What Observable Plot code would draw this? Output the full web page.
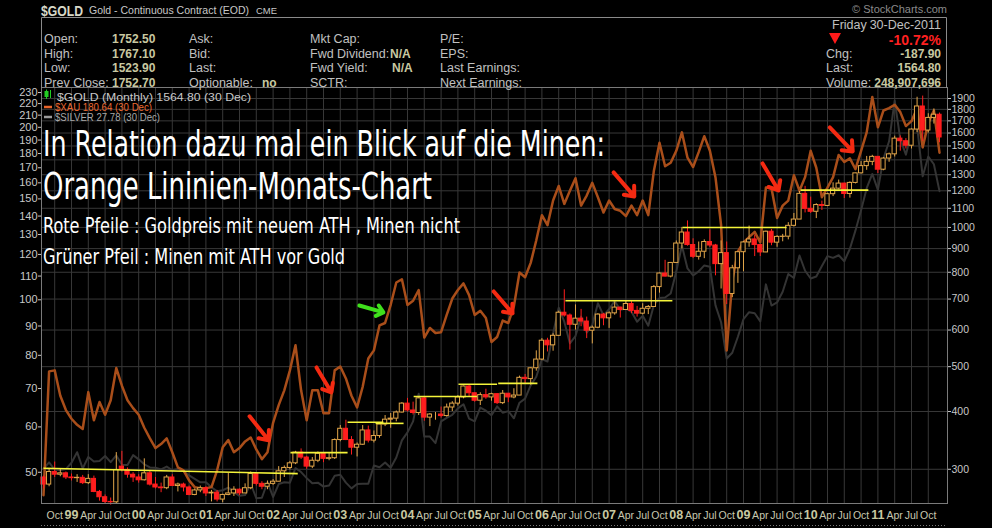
<!DOCTYPE html>
<html>
<head>
<meta charset="utf-8">
<script src="https://cdn.jsdelivr.net/npm/d3@7"></script>
<script src="https://cdn.jsdelivr.net/npm/@observablehq/plot@0.6"></script>
<style>
  html, body { margin:0; padding:0; background:#000; }
  #chart { width:992px; height:528px; overflow:hidden; }
  svg { display:block; }
</style>
</head>
<body>
<div id="chart"></div>
<script>
// ---------- DATA (monthly, Aug 1998 .. Dec 2011) ----------
const startYear = 1998, startMonth = 7; // Aug
const goldOpen = [288,278,296,292,294, 288,287,287.5,280,286,268,261,255,254.5,304,299,292, 288,284,294,278,274,273,288,276,278,274,264,270, 273,266,267,258,264,266,271,266,273,293,279,275, 279,282,297,302,309,326,318,304,313,324,316,317, 347,367,347,334,339,364,346,354,375,384,386,398, 416,402,397,427,388,394,394,391,408,416,429,453, 438,422,434,429,436,417,437,429,433,473,470,496, 518,569,556,583,654,645,616,635,626,598,607,648, 636,652,671,663,683,660,651,667,673,743,795,783, 838,923,975,916,864,886,930,914,833,880,718,816, 884,928,942,916,883,979,927,954,955,1008,1040,1182, 1097,1081,1118,1113,1180,1213,1244,1181,1248,1309,1357,1386, 1421,1333,1409,1439,1556,1536,1502,1628,1826,1620,1725,1752.5];
const goldHigh = [290,300,311,300,296, 293,292,291,292,290,270,264,260,326,328,302,295, 292,316,297,288,280,291,292,280,280,276,272,276, 275,270,270,265,294,275,272,279,296,294,282,283, 285,304,305,312,328,332,320,318,327,326,325,349, 373,383,353,342,373,372,363,376,392,396,401,418, 427,419,431,429,396,398,409,415,420,433,454,457, 438,439,447,438,437,444,437,448,477,481,497,541, 575,576,589,659,733,650,680,665,640,612,651,652, 657,690,672,694,692,675,684,678,749,797,849,840, 935,1000,1033,945,930,940,988,919,935,930,828,887, 933,1007,963,916,982,990,960,966,1024,1072,1196,1227, 1163,1125,1140,1185,1249,1266,1246,1255,1310,1388,1424,1432, 1424,1415,1448,1575,1577,1556,1632,1912,1923,1761,1804,1767.1];
const goldLow = [272,275,288,289,285, 283,281,278,278,267,256,252,251,252,296,287,281, 280,283,276,272,267,271,276,268,268,263,263,267, 262,255,255,254,263,262,263,266,271,276,271,271, 277,282,288,299,307,315,300,301,310,310,313,315, 344,346,322,319,338,342,342,350,371,368,380,397, 399,393,392,381,371,383,387,389,400,411,426,430, 419,412,425,421,414,414,418,426,433,459,456,489, 515,538,540,582,640,543,600,610,575,560,604,613, 605,646,637,663,651,640,647,648,673,721,781,778, 838,898,911,856,850,856,905,786,736,681,705,757, 802,906,865,865,882,913,906,931,940,1003,1040,1075, 1072,1045,1088,1112,1166,1206,1155,1157,1242,1305,1329,1360, 1308,1326,1383,1420,1462,1478,1478,1603,1535,1600,1673,1523.9];
const goldClose = [278,296,292,294,288, 287,287.5,280,286,268,261,255,254.5,299,299,292,288, 284,294,278,274,273,288,276,278,274,264,270,273, 266,267,258,264,266,271,266,273,293,279,275,279, 282,297,302,309,326,318,304,313,324,316,317,347, 367,347,334,339,364,346,354,375,384,386,398,416, 402,397,427,388,394,394,391,408,416,429,453,438, 422,434,429,436,417,437,429,433,473,470,496,518, 569,556,583,654,645,616,635,626,598,607,648,636, 652,671,663,683,660,651,667,673,743,795,783,838, 923,975,916,864,886,930,914,833,880,718,816,884, 928,942,916,883,979,927,954,955,1008,1040,1182,1097, 1081,1118,1113,1180,1213,1244,1181,1248,1309,1357,1386,1421, 1333,1409,1439,1556,1536,1502,1628,1826,1620,1725,1752.7,1564.8];
const xauClose = [45.6,75,75.3,68,64.2, 62,60.5,59.5,69,61.6,66.3,63,66.8,76,70.8,66.8,64.7, 63,59.8,57.3,55.1,56,57.3,54.2,51,50.4,48.4,47.1,46.9, 46.9,47.1,50.4,55.3,56.9,54.2,55.1,56.6,57.5,54.8,52.7,54.2, 61,65.5,69.5,75.3,83.3,69.5,61.6,69.5,69.5,63.4,63.4,75.3, 76.5,72.9,68,64.9,70.5,79,81.6,90.2,91.1,98,107.2,108.6, 97.9,99.6,104,85.9,89.3,87.5,87.8,94.1,100.5,104,106.8,101.9, 94.1,95.7,92.9,84.4,86.1,92,91.1,97.4,111.6,109.5,116,127, 140.5,135,149,158,147,155,163,146,152,160,151,142, 149,144,143,140,146,140.5,149,140.5,168,188,171,173.5, 182,196,177,170.5,181,193,182,163.5,135,81.6,108,121.5, 125.9,128.6,131.4,125.9,157,156.5,138.9,146,149,165,155,163.7, 182,170,151,157,163.7,179,174,176.5,169,182,196,226, 200,214,216,219,212.6,201,205,216,184.5,203.6,214,180.64];
const silverClose = [5.00,5.20,4.97,4.96,4.99, 5.19,5.54,5.01,5.38,5.23,5.25,5.41,5.21,5.43,5.13,5.12,5.44, 5.30,5.14,5.04,5.03,4.98,5.07,4.95,5.00,4.92,4.80,4.70,4.60, 4.60,4.46,4.35,4.38,4.45,4.33,4.23,4.25,4.56,4.17,4.18,4.60, 4.20,4.55,4.60,4.59,5.02,4.90,4.72,4.57,4.59,4.48,4.51,4.79, 4.82,4.59,4.43,4.55,4.56,4.56,5.10,5.05,5.20,5.03,5.36,5.96, 6.26,6.70,7.95,6.10,6.10,5.86,6.70,6.85,6.98,7.26,7.45,6.82, 6.70,7.30,7.16,6.96,7.35,7.07,7.14,6.83,7.52,7.71,8.37,8.83, 9.84,9.70,11.53,13.52,12.40,10.85,11.35,12.80,11.60,12.15,13.90,12.90, 13.40,14.10,13.35,13.46,13.18,12.40,12.86,12.10,13.76,14.35,14.40,14.76, 16.90,19.85,17.24,16.50,16.92,17.56,17.41,13.72,12.36,9.88,10.24,11.30, 12.60,13.15,13.07,12.43,15.62,13.70,13.97,14.92,16.65,16.25,18.67,16.99, 16.20,16.40,17.50,18.60,18.40,18.70,18.02,19.46,21.80,24.70,28.30,30.90, 28.00,34.00,37.80,48.60,38.30,34.80,40.00,41.50,30.45,34.40,32.80,27.78];

const goldTicks = [300,400,500,600,700,800,900,1000,1100,1200,1300,1400,1500,1600,1700,1800,1900];
const xauTicks = [50,60,70,80,90,100,110,120,130,140,150,160,170,180,190,200,210,220,230];
const monthNames = ["Jan","Feb","Mar","Apr","May","Jun","Jul","Aug","Sep","Oct","Nov","Dec"];

// resistance lines (month index, gold price)
const resX1 = [0, 44.1, 54.3, 59.3, 66.1, 74.1, 81.2, 93.2, 114.1, 135.2];
const resX2 = [45.4, 54.3, 60.7, 64.3, 77.4, 81.0, 88.2, 112.3, 132.7, 147.3];
const resY1 = [301.5, 326, 379, 377, 431, 458, 460, 694, 1000, 1204];
const resY2 = [293.6, 326, 379, 377, 431, 458, 460, 694, 1000, 1204];

// annotation arrows (month index, gold-equivalent level)
const arrX1 = [36.8, 48.75, 56.4, 80.4, 101.8, 128.4, 140.4];
const arrY1 = [390.5, 498, 678, 727, 1315, 1375, 1646];
const arrX2 = [40.2, 51.4, 60.7, 83.75, 105.5, 131.25, 144.5];
const arrY2 = [346.6, 440, 655, 652, 1167, 1202, 1460];
const arrKind = ["red","red","green","red","red","red","red"];

// ---------- secondary scales mapped onto the gold (log) axis ----------
const xauToG = v => 300 * Math.exp((-3 + 249 * Math.log(v / 50)) / 201);
const gToXau = g => 50 * Math.exp((201 * Math.log(g / 300) + 3) / 249);
const agToG = s => 300 * Math.exp((278.3 - 162 * Math.log(27.78 / s)) / 201);

const UP = "#e2a64a", DOWN = "#ff1e1e";
const rows = goldClose.map((c, i) => ({
  i, o: goldOpen[i], h: goldHigh[i], l: goldLow[i], c,
  up: c >= goldOpen[i], xau: xauClose[i], ag: silverClose[i]
}));
const mIdx = i => (startMonth + i) % 12;
const quarterTicks = rows.map(d => d.i).filter(i => i >= 2 && mIdx(i) % 3 === 0);
const monthTicks = quarterTicks.filter(i => mIdx(i) !== 0);
const yearTicks = quarterTicks.filter(i => mIdx(i) === 0);
const yy = i => String((startYear + Math.floor((startMonth + i) / 12)) % 100).padStart(2, "0");

const res = resX1.map((x, k) => ({x1: x, x2: resX2[k], y1: resY1[k], y2: resY2[k]}));
const arrows = arrX1.map((x, k) => ({x1: x, y1: arrY1[k], x2: arrX2[k], y2: arrY2[k], c: arrKind[k] === "green" ? "#3fe01c" : "#f42a12"}));

const font = "Arial, 'Liberation Sans', sans-serif";
const chart = Plot.plot({
  width: 992, height: 528,
  marginTop: 87, marginBottom: 25, marginLeft: 41, marginRight: 45,
  style: {background: "#000", color: "#c8c8c8", fontFamily: font},
  x: {type: "linear", domain: [-0.357, 161.43]},
  y: {type: "log", domain: [253, 2007]},
  color: {type: "identity"},
  marks: [
    Plot.gridY(goldTicks, {stroke: "#383838", strokeOpacity: 1}),
    Plot.gridX(quarterTicks, {stroke: "#383838", strokeOpacity: 1}),
    Plot.line(rows, {x: "i", y: d => agToG(d.ag), stroke: "#343434", strokeWidth: 2, strokeLinejoin: "round"}),
    Plot.line(rows, {x: "i", y: d => xauToG(d.xau), stroke: "#a94e1a", strokeWidth: 2.5, strokeLinejoin: "round"}),
    Plot.ruleX(rows, {x: "i", y1: "l", y2: "h", stroke: d => d.up ? UP : DOWN, strokeWidth: 1}),
    Plot.rect(rows, {x1: d => d.i - 0.38, x2: d => d.i + 0.38,
      y1: d => Math.min(d.o, d.c), y2: d => Math.max(d.o, d.c),
      fill: d => d.up ? "#000" : DOWN, stroke: d => d.up ? UP : DOWN, strokeWidth: 1}),
    Plot.link(res, {x1: "x1", x2: "x2", y1: "y1", y2: "y2", stroke: "#f4f43a", strokeWidth: 1.6}),
    Plot.arrow(arrows, {x1: "x1", y1: "y1", x2: "x2", y2: "y2", stroke: "c", strokeWidth: 4, headLength: 13, headAngle: 80}),
    Plot.frame({stroke: "#7a7a7a"}),
    Plot.axisY(goldTicks, {anchor: "right", tickSize: 3, tickPadding: 1, tickFormat: d => String(d), fontSize: 10.5, color: "#c8c8c8", label: null}),
    Plot.axisY(xauTicks.map(xauToG), {anchor: "left", tickSize: 3, tickPadding: 1, tickFormat: d => String(Math.round(gToXau(d))), fontSize: 11, color: "#c8c8c8", label: null}),
    Plot.axisX(monthTicks, {anchor: "bottom", tickSize: 0, tickPadding: 8, tickFormat: i => monthNames[mIdx(i)], fontSize: 10.5, color: "#c8c8b0", label: null}),
    Plot.axisX(yearTicks, {anchor: "bottom", tickSize: 0, tickPadding: 7, tickFormat: i => yy(i), fontSize: 12.5, fontWeight: "bold", color: "#c8c8a0", label: null})
  ]
});
document.getElementById("chart").appendChild(chart);

// ---------- header, legend and annotations ----------
const svg = d3.select(chart);
function txt(g, s, x, y, size, opts = {}) {
  const t = g.append("text").attr("x", x).attr("y", y).text(s)
    .attr("font-size", size).attr("font-family", opts.family || font)
    .attr("font-weight", opts.weight || "normal").attr("fill", opts.fill || "#c0c0c0")
    .attr("text-anchor", opts.anchor || "start")
    .attr("dominant-baseline", opts.baseline || "central");
  if (opts.len) t.attr("textLength", opts.len).attr("lengthAdjust", "spacingAndGlyphs");
  return t;
}
const H = svg.append("g");
H.append("path").attr("d", "M41.5,88 V17.5 H946.5 V88").attr("fill", "none").attr("stroke", "#8a8a8a");
const V = "#c8c8a0";
txt(H, "$GOLD", 41, 10, 15, {weight: "bold", fill: "#d8d8c8", len: 42});
txt(H, "Gold - Continuous Contract (EOD)", 89, 10, 11, {fill: "#c8c8c8", len: 160});
txt(H, "CME", 256, 10.5, 8.5, {fill: "#c8c8c8", len: 21});
txt(H, "\u00A9 StockCharts.com", 947, 9, 11, {fill: "#8a8a8a", anchor: "end"});
const rowsY = [39, 53.5, 68, 82.5];
[["Open:", "1752.50"], ["High:", "1767.10"], ["Low:", "1523.90"], ["Prev Close:", "1752.70"]].forEach(([a, b], k) => {
  txt(H, a, 44, rowsY[k], 12.5); txt(H, b, 112, rowsY[k], 12, {weight: "bold", fill: V});
});
["Ask:", "Bid:", "Last:", "Optionable:"].forEach((a, k) => txt(H, a, 189, rowsY[k], 12.5));
txt(H, "no", 262, rowsY[3], 12, {weight: "bold", fill: V});
["Mkt Cap:", "Fwd Dividend:", "Fwd Yield:", "SCTR:"].forEach((a, k) => txt(H, a, 310, rowsY[k], 12.5));
txt(H, "N/A", 390, rowsY[1], 12, {weight: "bold", fill: V});
txt(H, "N/A", 392, rowsY[2], 12, {weight: "bold", fill: V});
["P/E:", "EPS:", "Last Earnings:", "Next Earnings:"].forEach((a, k) => txt(H, a, 440, rowsY[k], 12.5));
txt(H, "Friday", 832, 25, 12.5);
txt(H, "30-Dec-2011", 941, 25, 12.5, {anchor: "end"});
H.append("path").attr("d", "M829,33 H841 L835,44 Z").attr("fill", "#ff1a1a");
txt(H, "-10.72%", 941, 39.5, 14, {weight: "bold", fill: "#ff2020", anchor: "end"});
txt(H, "Chg:", 826, 53.5, 12.5); txt(H, "-187.90", 941, 53.5, 12, {weight: "bold", fill: V, anchor: "end"});
txt(H, "Last:", 826, 68, 12.5); txt(H, "1564.80", 941, 68, 12, {weight: "bold", fill: V, anchor: "end"});
txt(H, "Volume:", 826, 82.5, 12.5); txt(H, "248,907,696", 941, 82.5, 12, {weight: "bold", fill: V, anchor: "end"});

// legend
const L = svg.append("g");
L.append("line").attr("x1", 46.5).attr("x2", 46.5).attr("y1", 89.5).attr("y2", 99).attr("stroke", "#22cc22");
L.append("rect").attr("x", 44.5).attr("y", 91).attr("width", 4).attr("height", 6).attr("fill", "#22cc22");
L.append("line").attr("x1", 50.5).attr("x2", 50.5).attr("y1", 90).attr("y2", 98).attr("stroke", "#22cc22");
txt(L, "$GOLD (Monthly) 1564.80 (30 Dec)", 57, 96.5, 10.5, {fill: "#c8c8c8", len: 194});
L.append("line").attr("x1", 44).attr("x2", 52).attr("y1", 107).attr("y2", 107).attr("stroke", "#e8642a").attr("stroke-width", 2.5);
txt(L, "$XAU 180.64 (30 Dec)", 55, 107, 10.5, {fill: "#ee6a30", len: 97});
L.append("line").attr("x1", 44).attr("x2", 52).attr("y1", 117).attr("y2", 117).attr("stroke", "#9a9a9a").attr("stroke-width", 2.5);
txt(L, "$SILVER 27.78 (30 Dec)", 55, 117, 10, {fill: "#a8a8a8", len: 105});

// big annotation text
const A = svg.append("g");
const cond = "'Liberation Sans Narrow', 'DejaVu Sans Condensed', 'Roboto Condensed', 'Open Sans', sans-serif";
txt(A, "In Relation dazu mal ein Blick auf die Minen:", 43, 156, 36, {fill: "#ffffff", family: cond, baseline: "alphabetic", len: 562});
txt(A, "Orange Lininien-Monats-Chart", 43, 199, 38, {fill: "#ffffff", family: cond, baseline: "alphabetic", len: 389});
txt(A, "Rote Pfeile : Goldpreis mit neuem ATH , Minen nicht", 43, 233, 22, {fill: "#ffffff", family: cond, baseline: "alphabetic", len: 417});
txt(A, "Gr\u00fcner Pfeil : Minen mit ATH vor Gold", 43, 264, 22, {fill: "#ffffff", family: cond, baseline: "alphabetic", len: 302});

// bottom panel border
svg.append("line").attr("x1", 41).attr("x2", 947).attr("y1", 525.5).attr("y2", 525.5)
  .attr("stroke", "#777").attr("stroke-dasharray", "1,2");
</script>
</body>
</html>
